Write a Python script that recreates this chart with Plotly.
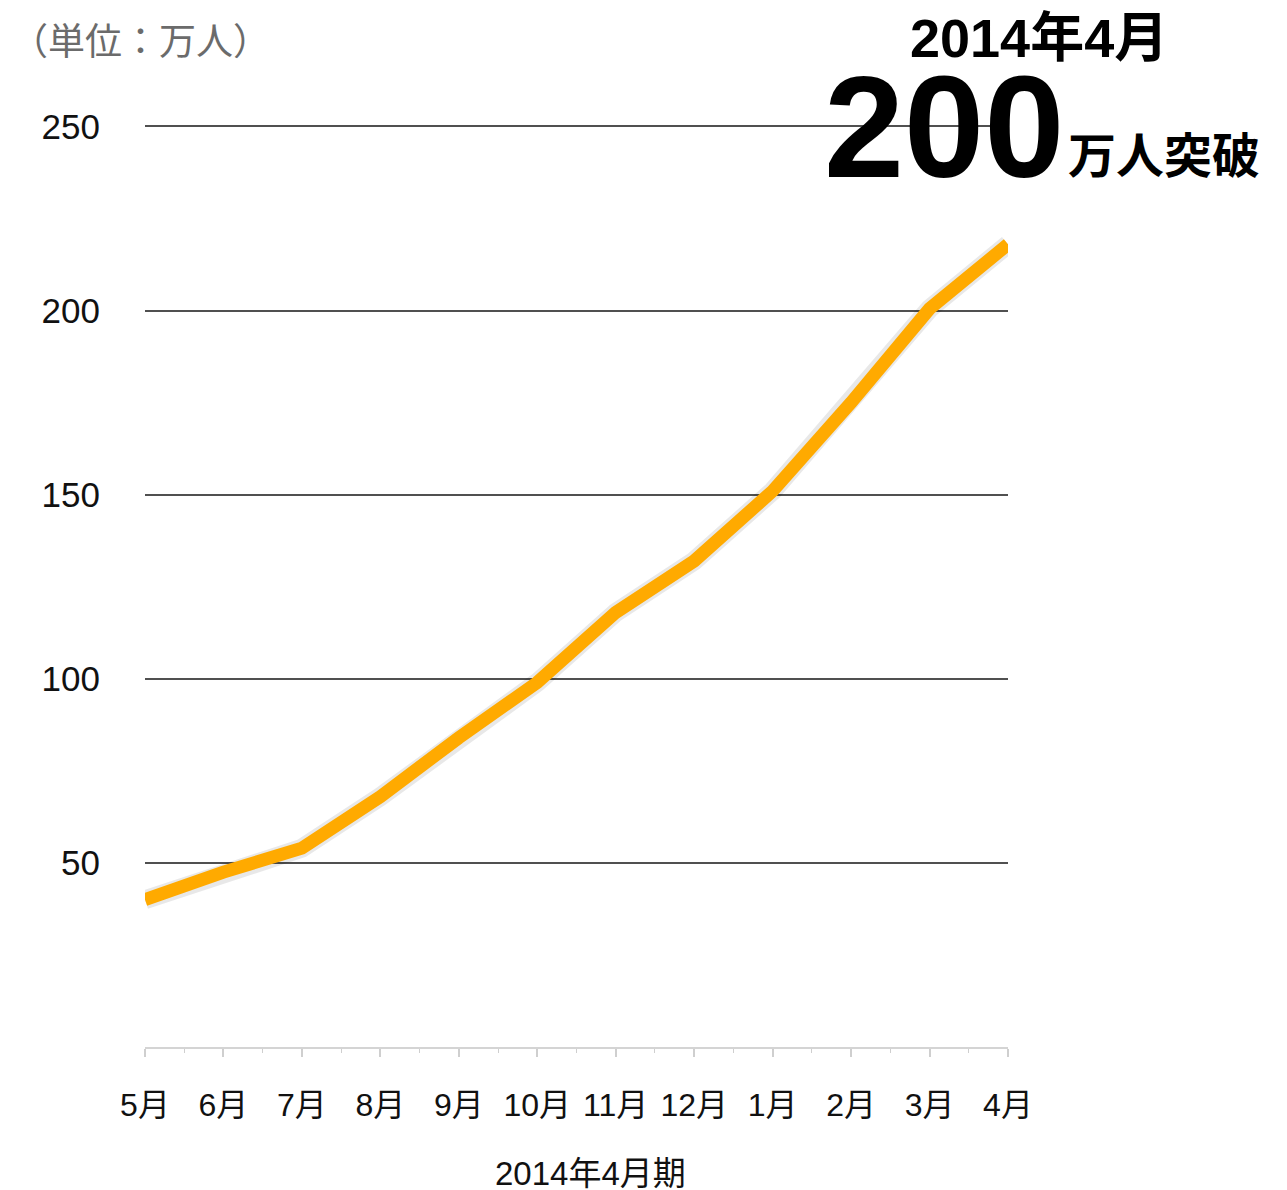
import plotly.graph_objects as go

# ── Data ────────────────────────────────────────────────────────────────
months = ["5月", "6月", "7月", "8月", "9月", "10月", "11月", "12月", "1月", "2月", "3月", "4月"]
users = [40, 47.5, 54, 68, 84, 99, 118, 132, 151, 175, 200.5, 218]
y_ticks = [50, 100, 150, 200, 250]

FONT = "Liberation Sans, Noto Sans CJK JP, sans-serif"
xs = list(range(len(months)))

fig = go.Figure()

# soft shadow under the line
fig.add_trace(go.Scatter(
    x=xs, y=users, mode="lines", hoverinfo="skip", showlegend=False,
    line=dict(color="rgba(0,0,0,0.09)", width=19),
))
fig.add_trace(go.Scatter(
    x=xs, y=users, mode="lines", name="会員数", showlegend=False,
    line=dict(color="#FFAA00", width=13),
))

# ── Annotations ─────────────────────────────────────────────────────────
fig.add_annotation(
    text="（単位：万人）", xref="paper", yref="paper", x=-0.158, y=1.0,
    xanchor="left", yanchor="middle", yshift=83, showarrow=False,
    font=dict(family=FONT, size=37, color="#6b6b6b"),
)
fig.add_annotation(
    text="<b>2014年4月</b>", xref="paper", yref="paper", x=1.036, y=1.0,
    xanchor="center", yanchor="middle", yshift=87, showarrow=False,
    font=dict(family=FONT, size=54, color="#000000"),
)
fig.add_annotation(
    text="<b>200</b>", xref="paper", yref="paper", x=0.926, y=1.0,
    xanchor="center", yanchor="middle", yshift=-2, showarrow=False,
    font=dict(family=FONT, size=144, color="#000000"),
)
fig.add_annotation(
    text="<b>万人突破</b>", xref="paper", yref="paper", x=1.067, y=1.0,
    xanchor="left", yanchor="middle", yshift=-31, showarrow=False,
    font=dict(family=FONT, size=48, color="#000000"),
)
# axis title, sitting a little right of the plot centre as in the source
fig.add_annotation(
    text="2014年4月期", xref="paper", yref="paper", x=0.516, y=0.0,
    xanchor="center", yanchor="middle", yshift=-126, showarrow=False,
    font=dict(family=FONT, size=33, color="#111111"),
)

# ── Layout ──────────────────────────────────────────────────────────────
fig.update_layout(
    width=1287, height=1190,
    paper_bgcolor="white", plot_bgcolor="white",
    margin=dict(l=137, r=287, t=117, b=151),
    font=dict(family=FONT, color="#111111"),
)
fig.update_xaxes(
    range=[0, len(months) - 1],
    tickmode="array", tickvals=xs, ticktext=months,
    tickfont=dict(size=32, color="#111111"),
    showgrid=False, zeroline=False,
    showline=True, linecolor="#d4d4d4", linewidth=1.5,
    ticks="outside", ticklen=8, tickcolor="#cfcfcf", tickwidth=1.5,
    ticklabelstandoff=21,
    minor=dict(dtick=0.5, ticks="outside", ticklen=4, tickcolor="#cfcfcf", tickwidth=1),
)
fig.update_yaxes(
    range=[0, 250.4],
    tickmode="array", tickvals=y_ticks,
    tickfont=dict(size=35, color="#111111"),
    showgrid=True, gridcolor="#505050", gridwidth=1.6,
    zeroline=False, showline=False,
    ticks="", ticklabelstandoff=44,
)

fig.write_html("out.html")
